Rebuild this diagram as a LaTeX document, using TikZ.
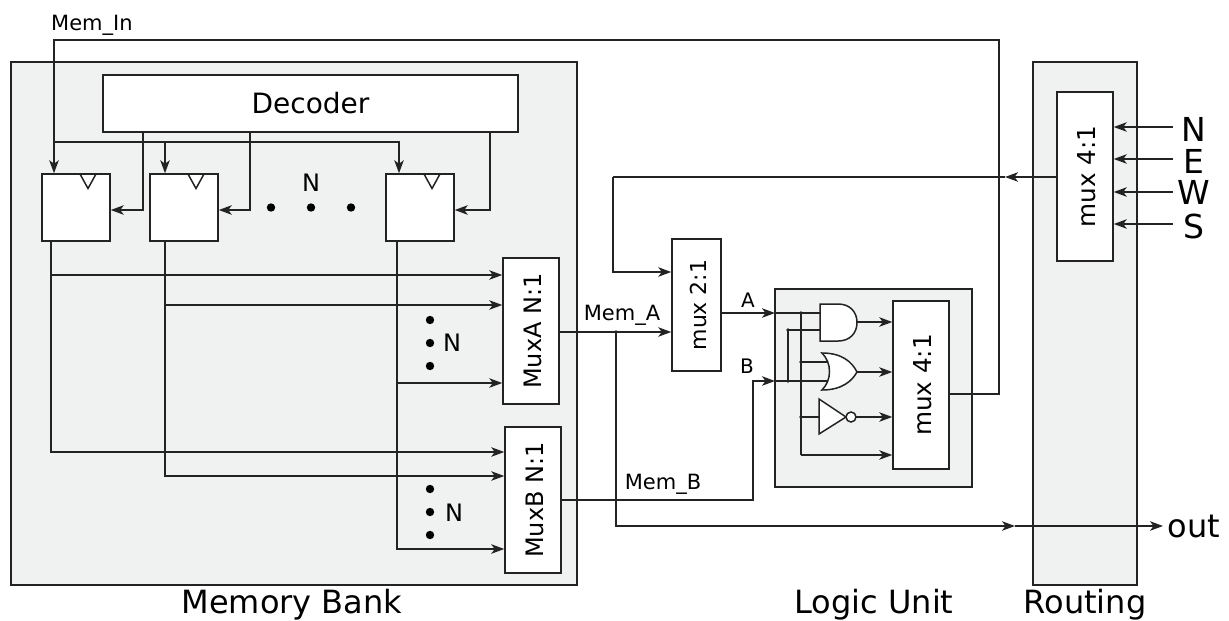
\documentclass[tikz,border=0pt]{standalone}
\usepackage{fontspec}
\setmainfont{DejaVu Sans}
\usetikzlibrary{arrows.meta,positioning}
\definecolor{PanelGray}{RGB}{240,241,241}
\definecolor{WireInk}{RGB}{35,35,35}
\newcommand{\fontpx}[1]{\fontsize{#1}{#1}\selectfont}
\newcommand{\junctiondot}[1]{\fill[WireInk] (#1) circle (1.8);}
\newcommand{\blockbox}[6]{%
  \node[blockbox,minimum width=#3,minimum height=#4] (#1) at (#2) {};
  \node[rotate=90,font=\fontpx{#5}] (#1text) at ([xshift=1.5pt]#1.center) {#6};}
\tikzset{
  panel/.style={draw=WireInk,fill=PanelGray,line width=1.5pt,inner sep=0pt},
  blockbox/.style={draw=WireInk,fill=white,line width=1.5pt,inner sep=0pt},
  wire/.style={draw=WireInk,line width=1.5pt},
  wirearrow/.style={wire,-{Stealth[length=13pt,width=9.5pt,inset=3.5pt]}},
  gate/.style={draw=WireInk,fill=white,line width=1.5pt}
}
\begin{document}
\begin{tikzpicture}[x=1pt,y=-1pt]
  \useasboundingbox (0,0) rectangle (1229,621);
  % panels
  \node[panel,minimum width=566pt,minimum height=523pt] (bank) at (294,323.5) {};
  \node[panel,minimum width=197pt,minimum height=198pt] (logic) at (873.5,388) {};
  \node[panel,minimum width=104pt,minimum height=523pt] (routing) at (1085,323.5) {};
  \node[font=\fontpx{32}] (banktext) at (292,605) {Memory Bank};
  \node[font=\fontpx{32}] (logictext) at (874,605) {Logic Unit};
  \node[font=\fontpx{32}] (routingtext) at (1085,605) {Routing};
  % blocks
  \node[blockbox,minimum width=415pt,minimum height=57pt,font=\fontpx{28}] (decoder) at (310.5,103.5) {Decoder};
  \node[blockbox,minimum width=68pt,minimum height=67pt] (ffa) at (76,207.5) {};
  \node[blockbox,minimum width=68pt,minimum height=67pt] (ffb) at (184,207.5) {};
  \node[blockbox,minimum width=68pt,minimum height=67pt] (ffc) at (420,207.5) {};
  \blockbox{muxa}{531,331}{56pt}{146pt}{24}{MuxA N:1}
  \blockbox{muxb}{533,500}{56pt}{146pt}{24}{MuxB N:1}
  \blockbox{muxc}{696.5,305}{49pt}{132pt}{22}{mux 2:1}
  \blockbox{muxd}{921,385}{56pt}{168pt}{24.7}{mux 4:1}
  \blockbox{muxe}{1085,176.5}{56pt}{169pt}{24.7}{mux 4:1}
  % clock marks
  \draw[wire] (80,174) -- (88,188.5) -- (96,174);
  \draw[wire] (188,174) -- (196,188.5) -- (204,174);
  \draw[wire] (424,174) -- (432,188.5) -- (440,174);
  % dots
  \foreach \x in {271,311,351} \fill (\x,207.5) circle (4.2);
  \foreach \y in {320,343,366,489,512,535} \fill (430,\y) circle (4.2);
  \node[font=\fontpx{24}] (countff) at (311,183) {N};
  \node[font=\fontpx{24}] (counta) at (452,343) {N};
  \node[font=\fontpx{24}] (countb) at (454,513) {N};
  % memory input
  \coordinate (memin) at (54,142);
  \coordinate (meminb) at (165,142);
  \coordinate (meminc) at (399,142);
  \coordinate (loopback) at (999,40);
  \draw[wire] (muxd.east |- 0,394) -| (loopback) -| (memin);
  \draw[wirearrow] (memin) -- (memin |- ffa.north);
  \draw[wirearrow] (meminb) -- (meminb |- ffb.north);
  \draw[wire] (memin) -- (meminb);
  \draw[wirearrow] (meminb) -| (meminc |- ffc.north);
  \node[font=\fontpx{21},anchor=west,inner sep=0pt] (memintext) at (51,25) {Mem\_In};
  % decoder select lines
  \coordinate (sela) at (143,210);
  \coordinate (selb) at (250,210);
  \coordinate (selc) at (490,210);
  \draw[wirearrow] (sela |- decoder.south) -- (sela) -- (sela -| ffa.east);
  \draw[wirearrow] (selb |- decoder.south) -- (selb) -- (selb -| ffb.east);
  \draw[wirearrow] (selc |- decoder.south) -- (selc) -- (selc -| ffc.east);
  % register outputs
  \coordinate (tapa) at (51,275);
  \coordinate (tapb) at (165,305);
  \coordinate (tapc) at (397,383);
  \draw[wirearrow] (tapa |- ffa.south) -- (tapa) -- (tapa -| muxa.west);
  \draw[wirearrow] (tapb |- ffb.south) -- (tapb) -- (tapb -| muxa.west);
  \draw[wirearrow] (tapc |- ffc.south) -- (tapc) -- (tapc -| muxa.west);
  \draw[wirearrow] (tapa) |- (muxb.west |- 0,452);
  \draw[wirearrow] (tapb) |- (muxb.west |- 0,476);
  \draw[wirearrow] (tapc) |- (muxb.west |- 0,549);
  % mux outputs
  \coordinate (splitm) at (616,332);
  \coordinate (outbend) at (616,526);
  \coordinate (outmid) at (1015,526);
  \coordinate (outend) at (1163,526);
  \coordinate (routemid) at (1005,177);
  \coordinate (routebend) at (613,177);
  \coordinate (inlogica) at (775,313);
  \coordinate (inlogicb) at (775,381);
  \coordinate (muxbbend) at (753,381);
  \draw[wirearrow] (muxa.east |- splitm) -- (splitm -| muxc.west);
  \draw[wirearrow] (splitm) -- (outbend) -- (outmid);
  \draw[wirearrow] (outmid) -- (outend);
  \draw[wirearrow] (muxb.east) -| (muxbbend) -- (inlogicb);
  \draw[wirearrow] (muxc.east |- inlogica) -- (inlogica);
  \draw[wirearrow] (muxe.west |- routemid) -- (routemid);
  \draw[wire] (routemid) -- (routebend);
  \draw[wirearrow] (routebend) |- (muxc.west |- 0,272);
  \junctiondot{splitm}
  \node[font=\fontpx{21}] (memalabel) at (622,315) {Mem\_A};
  \node[font=\fontpx{21}] (memblabel) at (663,484) {Mem\_B};
  \node[font=\fontpx{20}] (alabel) at (748,300) {A};
  \node[font=\fontpx{20}] (blabel) at (747,366) {B};
  % logic wires
  \coordinate (rowa) at (801,313);
  \coordinate (rowb) at (788,381);
  \coordinate (rowc) at (788,330);
  \coordinate (rowd) at (801,362);
  \coordinate (rowe) at (801,417);
  \coordinate (rowf) at (801,455);
  \draw[wire] (inlogica) -- (825,313);
  \draw[wire] (inlogicb) -- (832,381);
  \draw[wire] (rowb) -- (rowc) -- (825,330);
  \draw[wire] (rowa) -- (rowf);
  \draw[wirearrow] (rowf) -- (rowf -| muxd.west);
  \draw[wire] (rowd) -- (832,362);
  \draw[wire] (rowe) -- (825,417);
  \draw[wirearrow] (857,322) -- (muxd.west |- 0,322);
  \draw[wirearrow] (857,372) -- (muxd.west |- 0,372);
  \draw[wirearrow] (856,417) -- (muxd.west |- 0,417);
  \foreach \p in {rowa,rowb,rowc,rowd,rowe} {\junctiondot{\p}}
  % gates
  \draw[gate] (820,304) -- (838,304) .. controls (850,304) and (857,312) .. (857,322.5)
    .. controls (857,333) and (850,341) .. (838,341) -- (820,341) -- cycle;
  \draw[gate] (822,353) .. controls (842,353) and (852,362) .. (857,372)
    .. controls (852,381) and (842,390) .. (822,390)
    .. controls (832,380) and (832,363) .. (822,353) -- cycle;
  \draw[gate] (819,399) -- (846,417) -- (819,434) -- cycle;
  \draw[gate] (851,417) circle (5);
  % routing inputs
  \foreach \y in {127,159,192,224}
    \draw[wirearrow] (1173,\y) -- (muxe.east |- 0,\y);
  \node[font=\fontpx{33}] (northtext) at (1194,129) {N};
  \node[font=\fontpx{33}] (easttext) at (1194,161) {E};
  \node[font=\fontpx{33}] (westtext) at (1194,192) {W};
  \node[font=\fontpx{33}] (southtext) at (1194,226) {S};
  \node[font=\fontpx{32}] (outtext) at (1194,526) {out};
\end{tikzpicture}
\end{document}
